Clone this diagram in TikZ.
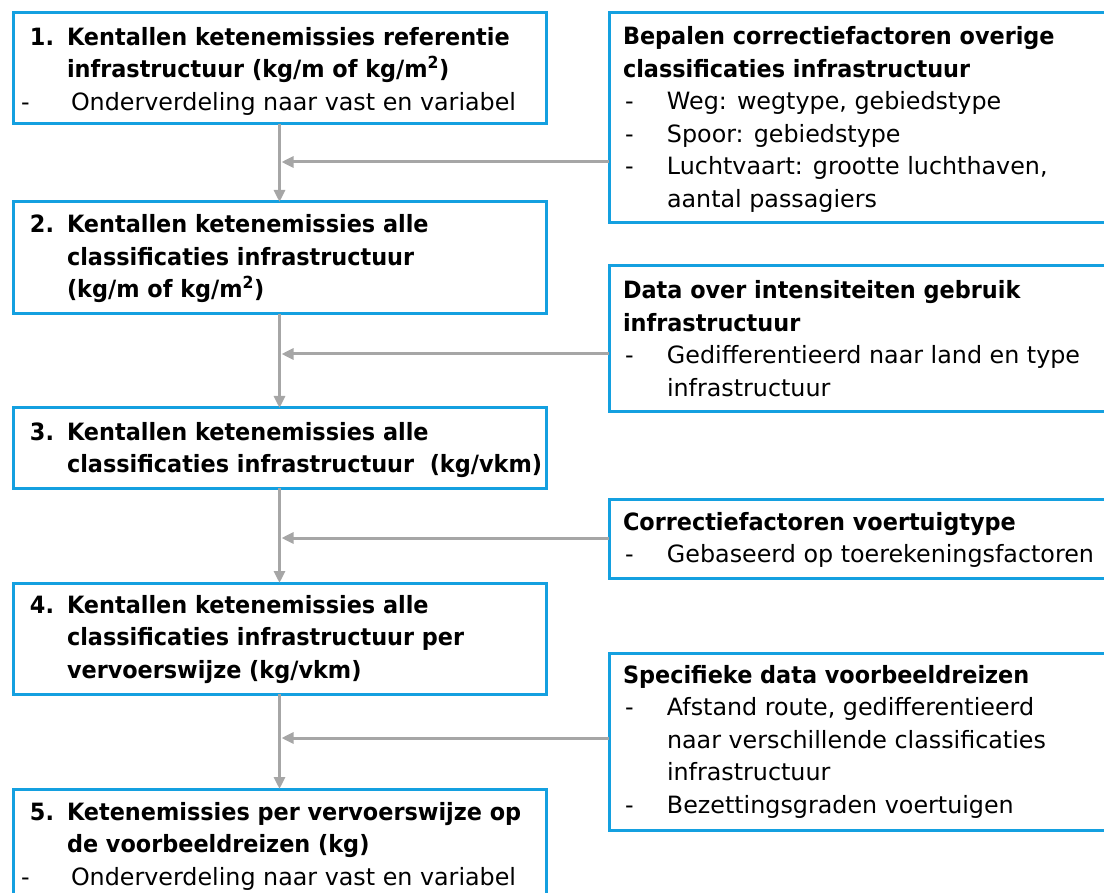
\documentclass[tikz,border=0pt]{standalone}
\usepackage{fontspec}
\setmainfont{DejaVu Sans}[BoldFeatures={FakeStretch=0.94}]
\usetikzlibrary{arrows.meta}
\definecolor{bblue}{HTML}{14A0E0}
\definecolor{agray}{HTML}{A6A6A6}
\newcommand\numrow[2]{\hbox{\hspace*{9pt}\makebox[37pt][l]{\bfseries #1}\bfseries #2}}
\newcommand\controw[1]{\hbox{\hspace*{46pt}\bfseries #1}}
\newcommand\ldashrow[1]{\hbox{\makebox[50pt][l]{-}#1}}
\newcommand\titlerow[1]{\hbox{\bfseries #1}}
\newcommand\rdashrow[1]{\hbox{\hspace*{2pt}\makebox[42pt][l]{-}#1}}
\newcommand\rcontrow[1]{\hbox{\hspace*{44pt}#1}}
\newcommand\lines[1]{\vtop{\baselineskip=32.5pt\lineskiplimit=-20pt #1}}
\newcommand\sqm{\textsuperscript{2}}
\begin{document}
\begin{tikzpicture}[x=1pt,y=-1pt,
  box/.style={draw=bblue, line width=3pt, inner sep=0pt, outer sep=0pt, anchor=north west, fill=white},
  txt/.style={anchor=base west, inner sep=0pt, outer sep=0pt, font=\fontsize{23.8}{32.5}\selectfont},
  arr/.style={draw=agray, line width=3pt, -{Triangle[length=12pt,width=11pt]}}]
\useasboundingbox (0,0) rectangle (1104,893);
\clip (0,0) rectangle (1104,893);
% left boxes
\node[box, minimum width=533pt, minimum height=111pt] (b1) at (13,13) {};
\node[box, minimum width=533pt, minimum height=112pt] (b2) at (13,202) {};
\node[box, minimum width=533pt, minimum height=80pt] (b3) at (13,408) {};
\node[box, minimum width=533pt, minimum height=111pt] (b4) at (13,583) {};
\node[box, minimum width=533pt, minimum height=140pt] (b5) at (13,789) {};
% right boxes
\node[box, minimum width=520pt, minimum height=210pt] (r1) at (609,13) {};
\node[box, minimum width=520pt, minimum height=146pt] (r2) at (609,266) {};
\node[box, minimum width=520pt, minimum height=79pt] (r3) at (609,499) {};
\node[box, minimum width=520pt, minimum height=177pt] (r4) at (609,653) {};
% left texts
\node[txt] (t1) at (21,45.5) {\lines{\numrow{1.}{Kentallen ketenemissies referentie}\controw{infrastructuur (kg/m of kg/m\sqm)}\ldashrow{Onderverdeling naar vast en variabel}}};
\node[txt] (t2) at (21,233) {\lines{\numrow{2.}{Kentallen ketenemissies alle}\controw{classificaties infrastructuur}\controw{(kg/m of kg/m\sqm)}}};
\node[txt] (t3) at (21,440) {\lines{\numrow{3.}{Kentallen ketenemissies alle}\controw{classificaties infrastructuur\ \ (kg/vkm)}}};
\node[txt] (t4) at (21,613) {\lines{\numrow{4.}{Kentallen ketenemissies alle}\controw{classificaties infrastructuur per}\controw{vervoerswijze (kg/vkm)}}};
\node[txt] (t5) at (21,820) {\lines{\numrow{5.}{Ketenemissies per vervoerswijze op}\controw{de voorbeeldreizen (kg)}\ldashrow{Onderverdeling naar vast en variabel}}};
% right texts
\node[txt] (s1) at (623,45) {\lines{\titlerow{Bepalen correctiefactoren overige}\titlerow{classificaties infrastructuur}\rdashrow{Weg: wegtype, gebiedstype}\rdashrow{Spoor: gebiedstype}\rdashrow{Luchtvaart: grootte luchthaven,}\rcontrow{aantal passagiers}}};
\node[txt] (s2) at (623,299) {\lines{\titlerow{Data over intensiteiten gebruik}\titlerow{infrastructuur}\rdashrow{Gedifferentieerd naar land en type}\rcontrow{infrastructuur}}};
\node[txt] (s3) at (623,530) {\lines{\titlerow{Correctiefactoren voertuigtype}\rdashrow{Gebaseerd op toerekeningsfactoren}}};
\node[txt] (s4) at (623,683) {\lines{\titlerow{Specifieke data voorbeeldreizen}\rdashrow{Afstand route, gedifferentieerd}\rcontrow{naar verschillende classificaties}\rcontrow{infrastructuur}\rdashrow{Bezettingsgraden voertuigen}}};
% connectors
\coordinate (j1) at (281.5,162);
\coordinate (j2) at (281.5,354);
\coordinate (j3) at (281.5,538);
\coordinate (j4) at (281.5,738);
\draw[arr] (b1.south) -- (b2.north);
\draw[arr] (b2.south) -- (b3.north);
\draw[arr] (b3.south) -- (b4.north);
\draw[arr] (b4.south) -- (b5.north);
\draw[arr] (r1.west |- j1) -- (j1);
\draw[arr] (r2.west |- j2) -- (j2);
\draw[arr] (r3.west |- j3) -- (j3);
\draw[arr] (r4.west |- j4) -- (j4);
\end{tikzpicture}
\end{document}
